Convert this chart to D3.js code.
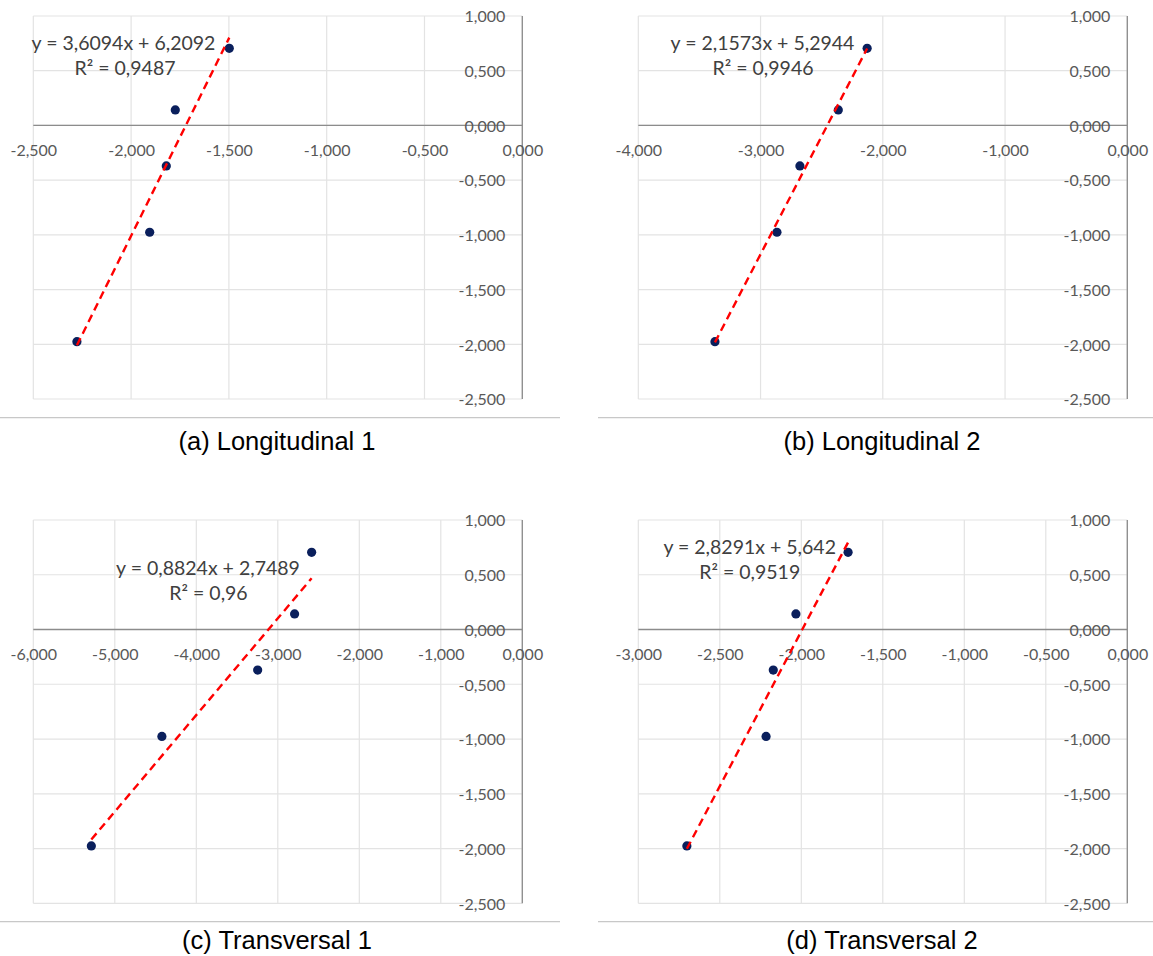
<!DOCTYPE html>
<html><head><meta charset="utf-8">
<script src="https://cdn.jsdelivr.net/npm/d3@7"></script>
<style>
html,body{margin:0;padding:0;background:#fff;}
svg{display:block;}
</style></head><body>
<svg id="chart" width="1153" height="956"></svg>
<script>
// ---------- data ----------
const yValues = [0.705, 0.142, -0.370, -0.976, -1.976];
const xLong1 = [-1.498, -1.774, -1.820, -1.905, -2.277];
const xLong2 = [-2.128, -2.364, -2.678, -2.866, -3.373];
const xTrans1 = [-2.585, -2.794, -3.247, -4.422, -5.288];
const xTrans2 = [-1.713, -2.033, -2.172, -2.216, -2.702];

const xTicksL1 = [-2.5, -2, -1.5, -1, -0.5, 0];
const xTicksL2 = [-4, -3, -2, -1, 0];
const xTicksT1 = [-6, -5, -4, -3, -2, -1, 0];
const xTicksT2 = [-3, -2.5, -2, -1.5, -1, -0.5, 0];
const yTicks = [1, 0.5, 0, -0.5, -1, -1.5, -2, -2.5];

const slopes = [3.6094, 2.1573, 0.8824, 2.8291];
const intercepts = [6.2092, 5.2944, 2.7489, 5.642];
const eqLabels = ["y = 3,6094x + 6,2092", "y = 2,1573x + 5,2944", "y = 0,8824x + 2,7489", "y = 2,8291x + 5,642"];
const r2Labels = ["R² = 0,9487", "R² = 0,9946", "R² = 0,96", "R² = 0,9519"];
const captions = ["(a) Longitudinal 1", "(b) Longitudinal 2", "(c) Transversal 1", "(d) Transversal 2"];

// ---------- layout ----------
const panels = [
  {xs: xLong1, xt: xTicksL1, x0: 33.3, x1: 522.3, y0: 16, y1: 399, eq: [123.5, 43.3], r2: [125, 67.8], cap: [277, 450], sep: [0, 560, 417.7]},
  {xs: xLong2, xt: xTicksL2, x0: 638.3, x1: 1127.3, y0: 16, y1: 399, eq: [762.5, 43.3], r2: [763, 67.8], cap: [882, 450], sep: [598, 1153, 417.7]},
  {xs: xTrans1, xt: xTicksT1, x0: 33.3, x1: 522.3, y0: 520, y1: 903.3, eq: [208, 568.3], r2: [208.5, 592.7], cap: [277, 949], sep: [0, 560, 921.7]},
  {xs: xTrans2, xt: xTicksT2, x0: 638.3, x1: 1127.3, y0: 520, y1: 903.3, eq: [749.7, 546.7], r2: [749.7, 572.3], cap: [882, 949], sep: [598, 1153, 921.7]}
];

const loc = d3.formatLocale({decimal: ",", thousands: ".", grouping: [3], currency: ["", ""], minus: "-"});
const fmt = loc.format(".3f");

const svg = d3.select("#chart");
svg.append("rect").attr("width", 1153).attr("height", 956).attr("fill", "#fff");

const tickFont = "Lato, 'Open Sans', sans-serif";

panels.forEach((p, i) => {
  const x = d3.scaleLinear().domain([p.xt[0], p.xt[p.xt.length - 1]]).range([p.x0, p.x1]);
  const y = d3.scaleLinear().domain([yTicks[yTicks.length - 1], yTicks[0]]).range([p.y1, p.y0]);
  const g = svg.append("g");

  // gridlines
  g.append("g").selectAll("line").data(p.xt).join("line")
    .attr("x1", d => x(d)).attr("x2", d => x(d))
    .attr("y1", y.range()[1]).attr("y2", y.range()[0])
    .attr("stroke", "#e3e3e3").attr("stroke-width", 1.2);
  g.append("g").selectAll("line").data(yTicks).join("line")
    .attr("x1", x.range()[0]).attr("x2", x.range()[1])
    .attr("y1", d => y(d)).attr("y2", d => y(d))
    .attr("stroke", "#e3e3e3").attr("stroke-width", 1.2);

  // axis lines
  g.append("line").attr("x1", x.range()[0]).attr("x2", x.range()[1])
    .attr("y1", y(0)).attr("y2", y(0)).attr("stroke", "#8c8c8c").attr("stroke-width", 1.3);
  g.append("line").attr("x1", x(0)).attr("x2", x(0))
    .attr("y1", y.range()[1]).attr("y2", y.range()[0]).attr("stroke", "#8c8c8c").attr("stroke-width", 1.3);

  // x axis labels
  const xa = g.append("g").attr("transform", `translate(0,${y(0)})`)
    .call(d3.axisBottom(x).tickValues(p.xt).tickFormat(fmt).tickSize(0));
  xa.select(".domain").remove();
  xa.selectAll("text").attr("y", 24.7).attr("dy", "0.36em")
    .attr("font-family", tickFont).attr("font-size", 16).attr("fill", "#595959");

  // y axis labels
  const ya = g.append("g").attr("transform", `translate(${x(0)},0)`)
    .call(d3.axisLeft(y).tickValues(yTicks).tickFormat(fmt).tickSize(0).tickPadding(17));
  ya.select(".domain").remove();
  ya.selectAll("text").attr("dy", "0.36em")
    .attr("font-family", tickFont).attr("font-size", 16).attr("fill", "#595959");

  // points
  const pts = p.xs.map((v, k) => [v, yValues[k]]);
  g.append("g").selectAll("circle").data(pts).join("circle")
    .attr("cx", d => x(d[0])).attr("cy", d => y(d[1])).attr("r", 4.6)
    .attr("fill", "#0a1f5c");

  // trendline
  const ext = d3.extent(p.xs);
  const tl = ext.map(v => [v, slopes[i] * v + intercepts[i]]);
  g.append("path").datum(tl)
    .attr("d", d3.line().x(d => x(d[0])).y(d => y(d[1])))
    .attr("fill", "none").attr("stroke", "#ff0000").attr("stroke-width", 2.4)
    .attr("stroke-dasharray", "8,5");

  // equation labels
  g.append("text").attr("x", p.eq[0]).attr("y", p.eq[1]).attr("dy", "0.36em")
    .attr("text-anchor", "middle").attr("font-family", tickFont).attr("font-size", 19.5)
    .attr("fill", "#404040").text(eqLabels[i]);
  g.append("text").attr("x", p.r2[0]).attr("y", p.r2[1]).attr("dy", "0.36em")
    .attr("text-anchor", "middle").attr("font-family", tickFont).attr("font-size", 19.5)
    .attr("fill", "#404040").text(r2Labels[i]);

  // separator
  g.append("line").attr("x1", p.sep[0]).attr("x2", p.sep[1]).attr("y1", p.sep[2]).attr("y2", p.sep[2])
    .attr("stroke", "#c8c8c8").attr("stroke-width", 1.3);

  // caption
  g.append("text").attr("x", p.cap[0]).attr("y", p.cap[1]).attr("text-anchor", "middle")
    .attr("font-family", "'Liberation Sans', Arial, sans-serif").attr("font-size", 25.5)
    .attr("fill", "#000").text(captions[i]);
});
</script>
</body></html>
